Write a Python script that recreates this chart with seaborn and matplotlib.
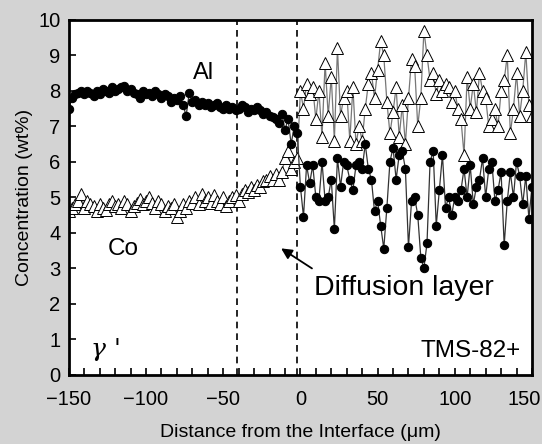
import numpy as np
import pandas as pd
import matplotlib
matplotlib.use('Agg')
import matplotlib.pyplot as plt
import matplotlib.transforms as mtransforms
import seaborn as sns
from matplotlib.ticker import MultipleLocator

# distance from interface (um), 2 um steps
distance = list(range(-150, 152, 2))

# Al concentration (wt%)
al_wt = [
    7.5, 7.8, 7.9, 7.95, 8.0, 7.9, 8.0, 7.95, 7.85, 8.0,
    7.9, 8.05, 8.0, 7.95, 8.1, 8.0, 8.05, 8.1, 8.15, 8.0,
    8.05, 7.95, 7.9, 7.8, 8.0, 7.9, 7.95, 7.85, 8.0, 7.9,
    7.8, 7.9, 7.85, 7.7, 7.8, 7.75, 7.85, 7.6, 7.3, 7.95,
    7.7, 7.75, 7.6, 7.7, 7.6, 7.65, 7.55, 7.6, 7.65, 7.55,
    7.5, 7.6, 7.5, 7.55, 7.45, 7.5, 7.6, 7.55, 7.4, 7.5,
    7.45, 7.55, 7.45, 7.35, 7.4, 7.3, 7.25, 7.2, 7.1, 7.35,
    6.9, 7.2, 6.5, 7.0, 6.8,
    5.3, 4.45, 5.9, 5.4, 5.9, 5.0, 4.9, 6.0, 4.9, 5.0,
    5.5, 4.1, 6.1, 5.3, 6.0, 5.9, 5.5, 5.2, 5.9, 6.0,
    5.8, 6.5, 5.8, 5.5, 4.6, 4.9, 4.2, 3.55, 4.7, 6.0,
    6.4, 5.5, 6.2, 6.3, 5.8, 3.6, 4.9, 5.0, 4.5, 3.3,
    3.0, 3.7, 6.0, 6.3, 4.2, 5.2, 6.2, 4.7, 5.0, 4.5,
    5.0, 4.9, 5.2, 5.8, 5.0, 5.9, 4.8, 5.3, 5.5, 6.1,
    5.0, 5.8, 6.0, 4.9, 5.2, 5.7, 3.65, 4.9, 5.7, 5.0,
    6.0, 5.6, 4.8, 5.6, 4.4, 5.3,
]

# Co concentration (wt%)
co_wt = [
    4.6, 4.7, 4.8, 4.9, 5.1, 4.7, 4.9, 4.8, 4.75, 4.6,
    4.8, 4.7, 4.65, 4.8, 4.9, 4.75, 4.8, 4.7, 4.9, 4.8,
    4.6, 4.75, 4.85, 4.95, 4.8, 4.9, 5.0, 4.85, 4.7, 4.9,
    4.8, 4.6, 4.75, 4.7, 4.8, 4.45, 4.6, 4.8, 4.7, 4.9,
    4.85, 5.0, 4.8, 5.1, 4.9, 5.0, 4.85, 5.05, 4.9, 4.8,
    5.0, 4.75, 4.9, 5.0, 5.05, 4.9, 5.1, 5.2, 5.15, 5.3,
    5.2, 5.35, 5.3, 5.45, 5.5, 5.6, 5.5, 5.65, 5.5, 5.7,
    6.1, 6.3, 5.8, 6.0, 6.1,
    8.0, 7.5, 8.2, 7.9, 8.1, 7.2, 8.0, 6.7, 8.8, 7.3,
    8.4, 6.6, 9.2, 7.3, 7.8, 8.0, 6.6, 8.1, 6.5, 7.0,
    6.6, 7.5, 8.2, 8.5, 7.8, 8.6, 9.4, 9.0, 7.7, 6.8,
    7.4, 8.1, 6.7, 7.6, 6.5, 7.8, 8.9, 8.7, 7.0, 7.8,
    9.7, 9.0, 8.3, 8.5, 7.9, 8.3, 8.0, 8.2, 8.1, 7.7,
    8.0, 7.5, 7.2, 6.2, 8.4, 7.5, 8.2, 7.4, 8.5, 8.0,
    7.8, 7.0, 7.2, 7.5, 7.0, 8.0, 8.3, 9.0, 6.8, 7.5,
    8.5, 7.3, 8.0, 9.1, 7.6, 7.3,
]

boundaries = [-41, -2]

df = pd.DataFrame({'x': distance, 'Al': al_wt, 'Co': co_wt})

plt.rcParams['font.family'] = ['Liberation Sans', 'DejaVu Sans']

fig = plt.figure(figsize=(5.42, 4.44), dpi=100, facecolor='#d3d3d3')
ax = fig.add_axes([0.127, 0.1565, 0.8545, 0.7985])
ax.set_facecolor('white')

sns.lineplot(data=df, x='x', y='Co', ax=ax, color='#777777', lw=0.9,
             marker='^', markersize=8, markerfacecolor='white',
             markeredgecolor='black', markeredgewidth=0.7, sort=False)
sns.lineplot(data=df, x='x', y='Al', ax=ax, color='#333333', lw=0.9,
             marker='o', markersize=6, markerfacecolor='black',
             markeredgecolor='black', sort=False)

for b in boundaries:
    ax.axvline(b, color='black', ls=(0, (4, 3)), lw=1.2, zorder=1)

ax.set_xlim(-150, 150)
ax.set_ylim(0, 10)
ax.xaxis.set_major_locator(MultipleLocator(50))
ax.xaxis.set_minor_locator(MultipleLocator(10))
ax.yaxis.set_major_locator(MultipleLocator(1))
ax.tick_params(axis='both', which='both', direction='in', labelsize=14.5, width=1.2)
ax.tick_params(axis='x', which='major', length=5, pad=11)
ax.tick_params(axis='x', which='minor', length=5)
ax.tick_params(axis='y', length=5, pad=6)
for s in ax.spines.values():
    s.set_linewidth(2)

ax.set_xlabel('Distance from the Interface (μm)', fontsize=14, labelpad=11)
ax.set_ylabel('Concentration (wt%)', fontsize=14, labelpad=4)

# nudge the "150" tick label inward so it stays inside the figure
fig.canvas.draw()
for tick in ax.xaxis.get_major_ticks():
    if abs(tick.get_loc() - 150) < 1e-6:
        tick.label1.set_horizontalalignment('right')
        tick.label1.set_transform(tick.label1.get_transform() +
                                  mtransforms.ScaledTranslation(9 / 100, 0, fig.dpi_scale_trans))

ax.text(-63, 8.5, 'Al', fontsize=17, ha='center', va='center')
ax.text(-115, 3.55, 'Co', fontsize=17.5, ha='center', va='center')
ax.text(8.5, 2.45, 'Diffusion layer', fontsize=20.5, ha='left', va='center')
ax.annotate('', xy=(-14, 3.6), xytext=(9, 2.95),
            arrowprops=dict(arrowstyle='-|>', color='black', lw=1.3, mutation_scale=16))
ax.text(-126, 0.7, "γ '", fontsize=18, ha='center', va='center',
        family=['DejaVu Serif'], style='italic')
ax.text(143, 0.65, 'TMS-82+', fontsize=17.5, ha='right', va='center')

fig.savefig('out.png', dpi=100, facecolor=fig.get_facecolor())
